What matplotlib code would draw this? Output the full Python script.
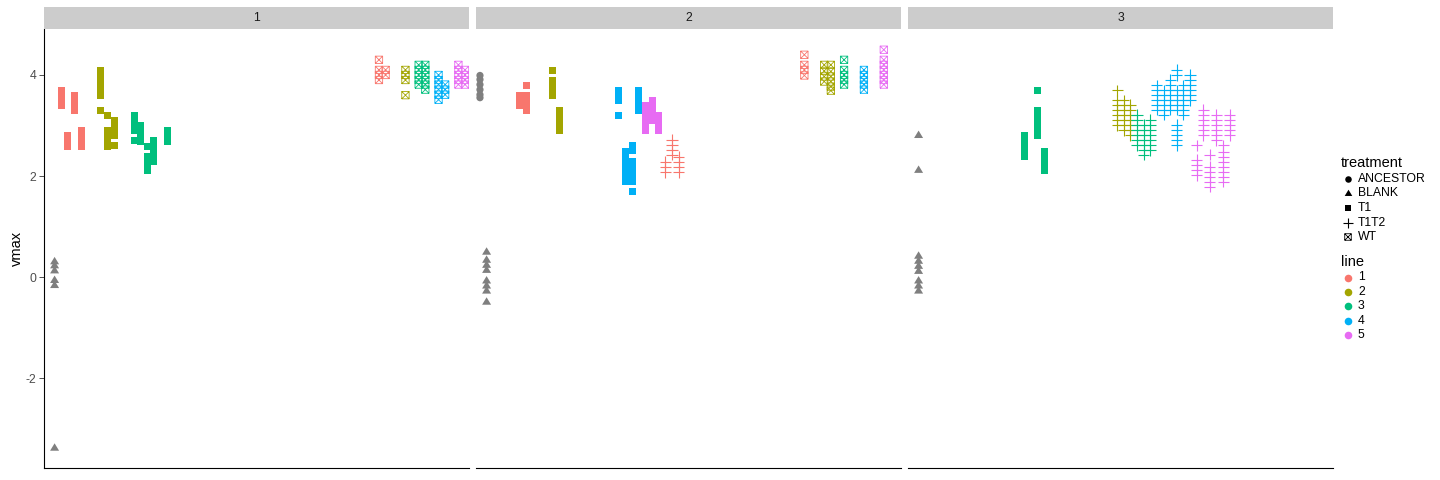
import matplotlib
matplotlib.use('Agg')
import matplotlib.pyplot as plt
from matplotlib.path import Path

plt.rcParams['font.family'] = ['Liberation Sans', 'DejaVu Sans']

# ---------------- data ----------------
facets = ['1', '2', '3']
n_wells = 64
line_levels = ['1', '2', '3', '4', '5']
line_colors = ['#F8766D', '#A3A500', '#00BF7D', '#00B0F6', '#E76BF3']
na_color = '#7F7F7F'
treatments = ['ANCESTOR', 'BLANK', 'T1', 'T1T2', 'WT']
y_ticks = [-2, 0, 2, 4]
y_label = 'vmax'

# each entry: (well index, line (0 = none), vmax values)
ancestor_f2 = [(1, 0, [3.99, 3.91, 3.81, 3.71, 3.61, 3.55])]

blank_f1 = [(2, 0, [0.31, 0.23, 0.13, -0.06, -0.16, -3.38])]
blank_f2 = [(2, 0, [0.50, 0.34, 0.24, 0.14, -0.07, -0.17, -0.27, -0.49])]
blank_f3 = [(2, 0, [2.81, 2.12, 0.42, 0.32, 0.22, 0.12, -0.07, -0.17, -0.27])]

t1_f1 = [
    (3, 1, [3.69, 3.59, 3.50, 3.40]),
    (4, 1, [2.80, 2.70, 2.59]),
    (5, 1, [3.59, 3.50, 3.40, 3.30]),
    (6, 1, [2.90, 2.80, 2.70, 2.59]),
    (9, 2, [4.09, 3.99, 3.89, 3.79, 3.69, 3.60, 3.30]),
    (10, 2, [3.20, 2.90, 2.80, 2.70, 2.59]),
    (11, 2, [3.10, 3.00, 2.90, 2.81, 2.60]),
    (14, 3, [3.20, 3.10, 3.00, 2.91, 2.70]),
    (15, 3, [3.00, 2.90, 2.80, 2.69]),
    (16, 3, [2.59, 2.39, 2.29, 2.19, 2.11]),
    (17, 3, [2.70, 2.60, 2.50, 2.40, 2.29]),
    (19, 3, [2.90, 2.80, 2.69]),
]
t1_f2 = [
    (7, 1, [3.59, 3.50, 3.40]),
    (8, 1, [3.80, 3.59, 3.50, 3.40, 3.30]),
    (12, 2, [4.09, 3.89, 3.79, 3.69, 3.59]),
    (13, 2, [3.30, 3.20, 3.10, 3.00, 2.90]),
    (22, 4, [3.69, 3.60, 3.50, 3.20]),
    (23, 4, [2.49, 2.39, 2.29, 2.19, 2.09, 1.99, 1.89]),
    (24, 4, [2.60, 2.50, 2.29, 2.19, 2.09, 1.99, 1.90, 1.70]),
    (25, 4, [3.69, 3.60, 3.50, 3.40, 3.30]),
    (26, 5, [3.40, 3.30, 3.20, 3.10, 3.00, 2.90]),
    (27, 5, [3.50, 3.40, 3.30, 3.20, 3.10]),
    (28, 5, [3.20, 3.10, 3.00, 2.90]),
]
t1_f3 = [
    (18, 3, [2.80, 2.70, 2.60, 2.50, 2.39]),
    (20, 3, [3.70, 3.30, 3.20, 3.10, 3.00, 2.90, 2.81]),
    (21, 3, [2.49, 2.39, 2.29, 2.19, 2.10]),
]

t1t2_f2 = [
    (29, 1, [2.28, 2.18, 2.08]),
    (30, 1, [2.72, 2.62, 2.52, 2.42]),
    (31, 1, [2.38, 2.28, 2.18, 2.08]),
]
t1t2_f3 = [
    (32, 2, [3.70, 3.50, 3.41, 3.31, 3.21, 3.11, 3.01]),
    (33, 2, [3.50, 3.41, 3.31, 3.21, 3.11, 3.01, 2.91]),
    (34, 2, [3.41, 3.31, 3.21, 3.11, 3.01, 2.91, 2.81]),
    (35, 3, [3.21, 3.11, 3.01, 2.91, 2.81, 2.71, 2.61]),
    (36, 3, [3.01, 2.91, 2.81, 2.71, 2.61, 2.51, 2.42]),
    (37, 3, [3.11, 3.01, 2.91, 2.81, 2.71, 2.61, 2.51]),
    (38, 4, [3.80, 3.70, 3.60, 3.50, 3.41, 3.31]),
    (39, 4, [3.70, 3.60, 3.50, 3.41, 3.31, 3.21]),
    (40, 4, [3.90, 3.80, 3.70, 3.60, 3.50, 3.41, 3.31]),
    (41, 4, [4.10, 4.00, 3.70, 3.60, 3.50, 3.41, 3.31, 3.01, 2.91, 2.81, 2.71, 2.61]),
    (42, 4, [3.80, 3.70, 3.60, 3.50, 3.41, 3.31, 3.21]),
    (43, 4, [4.00, 3.90, 3.80, 3.70, 3.60, 3.50]),
    (44, 5, [2.61, 2.32, 2.22, 2.12, 2.02]),
    (45, 5, [3.31, 3.21, 3.11, 3.01, 2.91, 2.81]),
    (46, 5, [2.42, 2.18, 2.08, 1.99, 1.89, 1.79]),
    (47, 5, [3.21, 3.11, 3.01, 2.91, 2.81, 2.71]),
    (48, 5, [2.61, 2.48, 2.38, 2.28, 2.18, 2.08, 1.99, 1.89]),
    (49, 5, [3.21, 3.11, 3.01, 2.91, 2.81]),
]

wt_f1 = [
    (51, 1, [4.30, 4.10, 4.00, 3.90]),
    (52, 1, [4.10, 4.00]),
    (55, 2, [4.10, 4.00, 3.90, 3.60]),
    (57, 3, [4.20, 4.10, 4.00, 3.90, 3.81]),
    (58, 3, [4.20, 4.10, 4.00, 3.90, 3.81, 3.71]),
    (60, 4, [4.00, 3.90, 3.81, 3.71, 3.61, 3.51]),
    (61, 4, [3.81, 3.71, 3.61]),
    (63, 5, [4.20, 4.10, 4.00, 3.90, 3.81]),
    (64, 5, [4.10, 4.00, 3.90, 3.81]),
]
wt_f2 = [
    (50, 1, [4.40, 4.20, 4.10, 3.99]),
    (53, 2, [4.20, 4.08, 3.97, 3.87]),
    (54, 2, [4.20, 4.07, 3.97, 3.87, 3.77, 3.69]),
    (56, 3, [4.30, 4.10, 4.00, 3.90, 3.81]),
    (59, 4, [4.10, 4.00, 3.90, 3.81, 3.71]),
    (62, 5, [4.50, 4.30, 4.20, 4.10, 4.00, 3.90, 3.81]),
]

panel_data = {
    '1': {'BLANK': blank_f1, 'T1': t1_f1, 'WT': wt_f1},
    '2': {'ANCESTOR': ancestor_f2, 'BLANK': blank_f2, 'T1': t1_f2,
          'T1T2': t1t2_f2, 'WT': wt_f2},
    '3': {'BLANK': blank_f3, 'T1': t1_f3, 'T1T2': t1t2_f3},
}

# ---------------- markers ----------------
tri_marker = Path([(0, 1.0), (-1, -0.65), (1, -0.65), (0, 1.0)],
                  [Path.MOVETO, Path.LINETO, Path.LINETO, Path.CLOSEPOLY])
boxx_marker = Path(
    [(-1, -1), (1, -1), (1, 1), (-1, 1), (-1, -1),
     (-1, -1), (1, 1), (-1, 1), (1, -1)],
    [Path.MOVETO, Path.LINETO, Path.LINETO, Path.LINETO, Path.LINETO,
     Path.MOVETO, Path.LINETO, Path.MOVETO, Path.LINETO])

style = {
    'ANCESTOR': dict(marker='o', s=27, lw=0, kind='filled'),
    'BLANK': dict(marker=tri_marker, s=42, lw=0, kind='filled'),
    'T1': dict(marker='s', s=25.5, lw=0, kind='filled'),
    'T1T2': dict(marker='+', s=64, lw=0.8, kind='line'),
    'WT': dict(marker=boxx_marker, s=28, lw=0.6, kind='open'),
}


def color_of(line):
    return na_color if line == 0 else line_colors[line - 1]


def scatter_marks(ax, xs, ys, cs, st, s=None):
    s = st['s'] if s is None else s
    if st['kind'] == 'filled':
        ax.scatter(xs, ys, marker=st['marker'], s=s, c=cs,
                   linewidths=0, zorder=3)
    elif st['kind'] == 'line':
        ax.scatter(xs, ys, marker=st['marker'], s=s, c=cs,
                   linewidths=st['lw'], zorder=3)
    else:
        ax.scatter(xs, ys, marker=st['marker'], s=s,
                   facecolors='none', edgecolors=cs,
                   linewidths=st['lw'], zorder=3)


def draw(ax, treatment, entries):
    xs, ys, cs = [], [], []
    for well, line, vals in entries:
        for v in vals:
            xs.append(well)
            ys.append(v)
            cs.append(color_of(line))
    scatter_marks(ax, xs, ys, cs, style[treatment])


# ---------------- figure ----------------
W, H = 1440, 480
fig = plt.figure(figsize=(W / 100, H / 100), dpi=100)


def rect(x0, y0, x1, y1):
    return [x0 / W, 1 - y1 / H, (x1 - x0) / W, (y1 - y0) / H]


panel_x = [(44, 469), (476, 901), (908, 1333)]
panel_top, panel_bot = 29.5, 468
strip_top = 7

for k, f in enumerate(facets):
    x0, x1 = panel_x[k]
    ax = fig.add_axes(rect(x0, panel_top, x1, panel_bot))
    ax.set_xlim(0.4, n_wells + 0.6)
    ax.set_ylim(-3.78, 4.90)
    for sp in ['top', 'right']:
        ax.spines[sp].set_visible(False)
    ax.spines['bottom'].set_linewidth(0.8)
    ax.spines['bottom'].set_color('black')
    ax.set_xticks([])
    if k == 0:
        ax.spines['left'].set_linewidth(0.8)
        ax.spines['left'].set_color('black')
        ax.set_yticks(y_ticks)
        ax.set_yticklabels([str(t) for t in y_ticks])
        ax.tick_params(axis='y', length=3.5, width=0.6, color='#333333',
                       labelsize=8.8, labelcolor='#4D4D4D', pad=2)
        ax.set_ylabel(y_label, fontsize=10.5, labelpad=1)
    else:
        ax.spines['left'].set_visible(False)
        ax.set_yticks([])
    for tr in treatments:
        if tr in panel_data[f]:
            draw(ax, tr, panel_data[f][tr])

    sax = fig.add_axes(rect(x0, strip_top, x1, panel_top - 0.5))
    sax.set_facecolor('#CCCCCC')
    sax.set_xticks([])
    sax.set_yticks([])
    for sp in sax.spines.values():
        sp.set_visible(False)
    sax.text(0.5, 0.5, f, ha='center', va='center', fontsize=8.8,
             color='#1A1A1A', transform=sax.transAxes)

# ---------------- legend ----------------
lax = fig.add_axes([0, 0, 1, 1])
lax.set_xlim(0, W)
lax.set_ylim(H, 0)
lax.axis('off')

lax.text(1341, 163, 'treatment', fontsize=10.5, va='center', ha='left')
tr_y = [179, 193, 208, 222.5, 237]
leg_sizes = {'ANCESTOR': 22, 'BLANK': 30, 'T1': 22, 'T1T2': 60, 'WT': 22}
for tr, yy in zip(treatments, tr_y):
    scatter_marks(lax, [1348], [yy], ['black'], style[tr], s=leg_sizes[tr])
    lax.text(1358, yy, tr, fontsize=8.8, va='center', ha='left')

lax.text(1341, 262.5, 'line', fontsize=10.5, va='center', ha='left')
ln_y = [277.5, 291.8, 306, 320.5, 335]
for lvl, col, yy in zip(line_levels, line_colors, ln_y):
    lax.scatter([1348], [yy], marker='o', s=30, c=col, linewidths=0)
    lax.text(1358, yy, lvl, fontsize=8.8, va='center', ha='left')

fig.savefig('out.png', dpi=100)
